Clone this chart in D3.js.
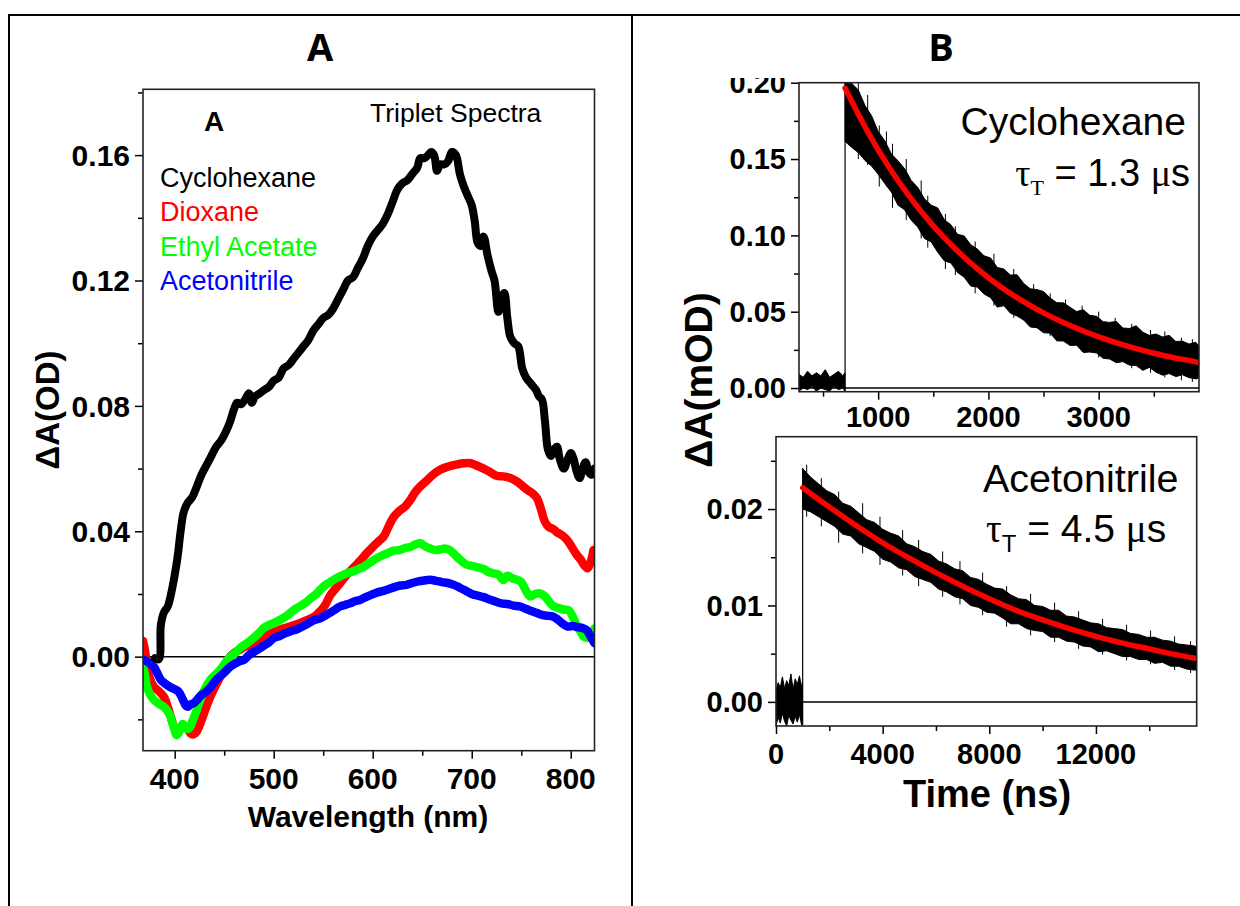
<!DOCTYPE html>
<html><head><meta charset="utf-8">
<script src="https://cdn.jsdelivr.net/npm/d3@7"></script>
<style>body{margin:0;background:#fff}svg{display:block}</style>
</head><body><svg id="c" width="1240" height="906"></svg>
<script>
// ---------- Panel A: triplet spectra ----------
const seriesNames = ["Cyclohexane", "Dioxane", "Ethyl Acetate", "Acetonitrile"];
const seriesColors = ["#000000", "#ff0000", "#00ff00", "#0000ff"];
const cyclohexaneSpec = [[380,-0.0005],[384,-0.0008],[386,0.010],[389,0.0140],[393,0.0160],[396,0.0195],[400,0.026],[403,0.032],[406,0.040],[409,0.046],[413,0.049],[418,0.051],[422,0.054],[427,0.058],[432,0.061],[437,0.064],[442,0.067],[447,0.069],[452,0.072],[456,0.075],[460,0.079],[463,0.081],[467,0.0805],[471,0.082],[475,0.084],[478,0.081],[481,0.083],[486,0.084],[490,0.085],[495,0.086],[500,0.088],[505,0.089],[510,0.092],[515,0.093],[520,0.095],[525,0.097],[530,0.099],[535,0.101],[540,0.104],[545,0.106],[550,0.108],[555,0.109],[560,0.111],[565,0.114],[570,0.117],[575,0.120],[580,0.121],[585,0.124],[590,0.127],[595,0.131],[600,0.134],[605,0.136],[610,0.138],[615,0.141],[620,0.145],[625,0.149],[630,0.151],[635,0.152],[640,0.154],[645,0.156],[648,0.159],[652,0.159],[656,0.160],[659,0.161],[662,0.160],[665,0.155],[668,0.157],[672,0.157],[676,0.158],[680,0.161],[684,0.160],[688,0.154],[692,0.150],[696,0.147],[700,0.144],[703,0.139],[706,0.132],[709,0.131],[712,0.134],[716,0.128],[720,0.123],[723,0.120],[727,0.110],[730,0.114],[733,0.116],[736,0.108],[739,0.102],[743,0.100],[747,0.099],[751,0.092],[755,0.089],[760,0.087],[765,0.085],[768,0.083],[771,0.082],[774,0.075],[777,0.066],[780,0.064],[783,0.066],[786,0.067],[789,0.063],[793,0.060],[797,0.063],[800,0.065],[803,0.063],[806,0.059],[809,0.057],[812,0.060],[815,0.062],[818,0.059],[821,0.058],[824,0.060]];
const dioxaneSpec = [[368,0.005],[370,0.002],[372,-0.003],[375,-0.007],[379,-0.0096],[384,-0.011],[389,-0.0128],[393,-0.016],[396,-0.0192],[400,-0.023],[403,-0.0245],[406,-0.023],[409,-0.0224],[413,-0.023],[416,-0.0245],[419,-0.0248],[422,-0.024],[425,-0.022],[428,-0.0195],[432,-0.016],[436,-0.0128],[441,-0.0095],[446,-0.0064],[451,-0.003],[456,0.000],[460,0.0012],[465,0.002],[470,0.003],[475,0.0035],[480,0.0045],[485,0.0052],[490,0.0062],[495,0.0070],[500,0.0078],[506,0.0086],[512,0.0092],[518,0.0098],[524,0.0104],[530,0.0112],[536,0.0120],[542,0.0130],[547,0.0145],[552,0.0165],[557,0.0195],[562,0.0215],[568,0.0238],[574,0.0262],[580,0.0282],[587,0.0305],[594,0.0330],[600,0.0350],[606,0.0368],[611,0.0383],[616,0.0415],[621,0.0445],[627,0.0465],[633,0.0480],[638,0.0500],[643,0.0525],[648,0.0543],[654,0.0560],[660,0.0578],[668,0.0596],[675,0.0605],[683,0.0612],[692,0.0617],[699,0.0617],[705,0.0610],[712,0.0600],[718,0.0590],[725,0.0577],[732,0.0575],[739,0.0570],[745,0.0560],[750,0.0548],[756,0.0532],[761,0.0522],[766,0.0505],[770,0.0470],[774,0.0430],[778,0.0413],[782,0.0408],[786,0.0397],[790,0.0390],[794,0.0380],[798,0.0365],[802,0.0345],[806,0.0325],[810,0.0310],[814,0.0290],[817,0.0282],[820,0.0300],[823,0.0340]];
const ethylAcetateSpec = [[368,-0.003],[370,-0.006],[372,-0.0096],[375,-0.012],[379,-0.0138],[384,-0.0150],[389,-0.0160],[393,-0.0175],[396,-0.0192],[399,-0.0225],[402,-0.0250],[405,-0.0235],[408,-0.0215],[411,-0.0228],[414,-0.0230],[418,-0.0205],[422,-0.0172],[426,-0.0135],[431,-0.0100],[436,-0.0074],[441,-0.0058],[446,-0.0042],[451,-0.0020],[456,0.0000],[461,0.0012],[467,0.0030],[473,0.0043],[479,0.0058],[485,0.0075],[490,0.0092],[496,0.0102],[502,0.0110],[508,0.0120],[514,0.0132],[520,0.0148],[526,0.0160],[532,0.0172],[538,0.0188],[543,0.0200],[547,0.0213],[552,0.0228],[557,0.0238],[562,0.0248],[568,0.0258],[574,0.0266],[580,0.0272],[586,0.0280],[591,0.0287],[597,0.0300],[603,0.0312],[609,0.0322],[615,0.0330],[621,0.0338],[627,0.0340],[632,0.0346],[638,0.0350],[643,0.0358],[648,0.0362],[653,0.0352],[658,0.0345],[663,0.0340],[668,0.0342],[673,0.0345],[678,0.0340],[683,0.0325],[688,0.0310],[694,0.0295],[700,0.0290],[706,0.0285],[712,0.0280],[717,0.0270],[722,0.0266],[727,0.0262],[732,0.0245],[736,0.0258],[741,0.0250],[746,0.0245],[750,0.0238],[754,0.0215],[759,0.0192],[764,0.0200],[769,0.0202],[774,0.0192],[779,0.0172],[783,0.0160],[788,0.0155],[793,0.0150],[798,0.0148],[802,0.0128],[806,0.0100],[810,0.0080],[813,0.0064],[816,0.0060],[819,0.0062],[822,0.0075],[824,0.0090]];
const acetonitrileSpec = [[368,-0.001],[372,-0.0015],[376,-0.0025],[379,-0.0032],[382,-0.0050],[386,-0.0074],[390,-0.0085],[395,-0.0096],[400,-0.0104],[404,-0.0112],[408,-0.0135],[411,-0.0155],[413,-0.0160],[416,-0.0152],[419,-0.0149],[422,-0.0140],[426,-0.0125],[430,-0.0116],[434,-0.0105],[438,-0.0090],[442,-0.0074],[447,-0.0060],[452,-0.0045],[456,-0.0032],[461,-0.0022],[466,-0.0014],[470,-0.0010],[475,0.0005],[480,0.0015],[485,0.0025],[490,0.0035],[495,0.0045],[500,0.0059],[506,0.0066],[512,0.0075],[518,0.0082],[524,0.0088],[530,0.0098],[536,0.0108],[541,0.0117],[547,0.0122],[553,0.0133],[558,0.0142],[563,0.0152],[567,0.0160],[572,0.0165],[577,0.0170],[582,0.0177],[587,0.0181],[593,0.0190],[599,0.0198],[605,0.0205],[611,0.0210],[616,0.0215],[622,0.0222],[628,0.0227],[634,0.0229],[640,0.0235],[646,0.0240],[652,0.0243],[658,0.0245],[664,0.0242],[670,0.0238],[676,0.0235],[682,0.0229],[688,0.0220],[694,0.0210],[700,0.0200],[706,0.0195],[712,0.0190],[718,0.0182],[724,0.0176],[730,0.0170],[736,0.0168],[742,0.0163],[749,0.0160],[755,0.0152],[761,0.0145],[766,0.0139],[771,0.0133],[777,0.0130],[782,0.0128],[787,0.0118],[792,0.0105],[797,0.0096],[802,0.0098],[807,0.0094],[812,0.0091],[816,0.0085],[820,0.0065],[824,0.0043]];
const aXTicks = [400, 500, 600, 700, 800];
const aXMinor = [450, 550, 650, 750];
const aYTicks = [0.00, 0.04, 0.08, 0.12, 0.16];
const aYMinor = [-0.02, 0.02, 0.06, 0.10, 0.14, 0.18];

// ---------- Panel B top: cyclohexane decay ----------
const cyPreT = [282,320,360,400,440,480,520,560,600,640,680,698];
const cyPreUpper = [0.009,0.007,0.011,0.008,0.010,0.008,0.012,0.007,0.009,0.011,0.008,0.010];
const cyPreLower = [-0.002,0.000,-0.001,0.001,-0.002,0.000,-0.001,-0.002,0.001,-0.001,0.000,-0.002];
const cyPostT = [700,760,820,880,940,1000,1060,1120,1180,1240,1300,1360,1420,1480,1540,1600,1660,1720,1780,1840,1900,1960,2020,2080,2140,2200,2260,2320,2380,2440,2500,2560,2620,2680,2740,2800,2860,2920,2980,3040,3100,3160,3220,3280,3340,3400,3460,3520,3580,3640,3700,3760,3820,3880,3910];
const cyPostUpper = [0.2000,0.1996,0.1952,0.1851,0.1784,0.1680,0.1620,0.1533,0.1488,0.1437,0.1359,0.1313,0.1239,0.1198,0.1180,0.1103,0.1069,0.1007,0.0996,0.0938,0.0911,0.0866,0.0852,0.0790,0.0779,0.0740,0.0742,0.0685,0.0650,0.0645,0.0632,0.0590,0.0559,0.0558,0.0529,0.0501,0.0513,0.0476,0.0470,0.0435,0.0430,0.0436,0.0393,0.0390,0.0408,0.0366,0.0345,0.0354,0.0334,0.0345,0.0305,0.0307,0.0288,0.0300,0.0276];
const cyPostLower = [0.1615,0.1576,0.1542,0.1491,0.1454,0.1400,0.1340,0.1283,0.1198,0.1167,0.1099,0.1053,0.0979,0.0958,0.0890,0.0833,0.0819,0.0757,0.0726,0.0668,0.0661,0.0616,0.0592,0.0530,0.0539,0.0490,0.0472,0.0445,0.0400,0.0395,0.0362,0.0360,0.0309,0.0308,0.0279,0.0281,0.0233,0.0236,0.0230,0.0195,0.0190,0.0166,0.0173,0.0150,0.0148,0.0116,0.0135,0.0104,0.0084,0.0095,0.0075,0.0087,0.0068,0.0060,0.0066];
const cySpikes = [[820,0.150,0.200],[905,0.146,0.192],[1010,0.132,0.172],[1075,0.132,0.168],[1130,0.118,0.160],[1255,0.110,0.150],[1390,0.098,0.136],[1450,0.092,0.126],[1610,0.078,0.114],[1700,0.074,0.106],[1880,0.062,0.096],[2050,0.054,0.088],[2230,0.046,0.078],[2410,0.040,0.068],[2560,0.034,0.062],[2700,0.030,0.058],[2850,0.024,0.054],[3000,0.020,0.050],[3150,0.017,0.046],[3300,0.013,0.042],[3470,0.010,0.038],[3600,0.007,0.037],[3750,0.005,0.033],[3850,0.004,0.032]];
const cyFitT = [700,900,1100,1300,1500,1700,1900,2100,2300,2500,2700,2900,3100,3300,3500,3700,3900,3910];
const cyFit = [0.1965,0.1685,0.1445,0.1239,0.1062,0.0911,0.0781,0.0669,0.0574,0.0492,0.0422,0.0362,0.0310,0.0266,0.0228,0.0196,0.0168,0.0166];
const cyXTicks = [1000, 2000, 3000];
const cyXMinor = [500, 1500, 2500, 3500];
const cyYTicks = [0.00, 0.05, 0.10, 0.15, 0.20];
const cyYMinor = [0.025, 0.075, 0.125, 0.175];

// ---------- Panel B bottom: acetonitrile decay ----------
const acPreT = [0,80,160,240,320,400,480,560,640,720,800,880,960,995];
const acPreUpper = [0.0012,0.0020,0.0015,0.0026,0.0014,0.0022,0.0017,0.0029,0.0013,0.0024,0.0018,0.0027,0.0015,0.0021];
const acPreLower = [-0.0025,-0.0016,-0.0022,-0.0012,-0.0020,-0.0025,-0.0014,-0.0019,-0.0023,-0.0015,-0.0021,-0.0013,-0.0024,-0.0018];
const acPostT = [1000,1300,1600,1900,2200,2500,2800,3100,3400,3700,4000,4300,4600,4900,5200,5500,5800,6100,6400,6700,7000,7300,7600,7900,8200,8500,8800,9100,9400,9700,10000,10300,10600,10900,11200,11500,11800,12100,12400,12700,13000,13300,13600,13900,14200,14500,14800,15100,15400,15700,15780];
const acPostUpper = [0.0242,0.0233,0.0226,0.0219,0.0215,0.0206,0.0203,0.0196,0.0189,0.0186,0.0179,0.0175,0.0172,0.0164,0.0161,0.0156,0.0153,0.0146,0.0143,0.0138,0.0136,0.0129,0.0127,0.0122,0.0118,0.0117,0.0111,0.0107,0.0106,0.0100,0.0099,0.0095,0.0095,0.0089,0.0088,0.0085,0.0082,0.0081,0.0077,0.0076,0.0075,0.0071,0.0070,0.0067,0.0067,0.0064,0.0063,0.0060,0.0059,0.0058,0.0057];
const acPostLower = [0.0200,0.0197,0.0192,0.0187,0.0182,0.0174,0.0172,0.0164,0.0160,0.0156,0.0148,0.0145,0.0139,0.0137,0.0130,0.0127,0.0124,0.0117,0.0114,0.0109,0.0107,0.0100,0.0098,0.0093,0.0092,0.0087,0.0081,0.0081,0.0076,0.0074,0.0073,0.0067,0.0067,0.0063,0.0062,0.0058,0.0057,0.0052,0.0053,0.0050,0.0047,0.0047,0.0044,0.0044,0.0040,0.0041,0.0037,0.0037,0.0034,0.0033,0.0033];
const acSpikes = [[1150,0.0192,0.0246],[1700,0.0182,0.0232],[2350,0.0165,0.0218],[3250,0.0154,0.0206],[3900,0.0142,0.0192],[4750,0.0131,0.0178],[5350,0.0120,0.0168],[6250,0.0109,0.0156],[6900,0.0101,0.0146],[7750,0.0090,0.0134],[8650,0.0078,0.0120],[9550,0.0069,0.0112],[10450,0.0062,0.0103],[11350,0.0055,0.0094],[12250,0.0049,0.0086],[13150,0.0043,0.0080],[14050,0.0039,0.0074],[14950,0.0033,0.0068],[15550,0.0030,0.0063]];
const acFitT = [1000,2000,3000,4000,5000,6000,7000,8000,9000,10000,11000,12000,13000,14000,15000,15780];
const acFit = [0.0222,0.0202,0.0183,0.0165,0.0149,0.0134,0.0120,0.0107,0.0095,0.0085,0.0076,0.0068,0.0061,0.0055,0.0049,0.0045];
const acXTicks = [0, 4000, 8000, 12000];
const acXMinor = [2000, 6000, 10000, 14000];
const acYTicks = [0.00, 0.01, 0.02];
const acYMinor = [0.005, 0.015, 0.025];

// ---------- drawing ----------
const SANS = "'Liberation Sans', Arial, sans-serif";
const SERIF = "'Liberation Serif', 'Times New Roman', serif";
const svg = d3.select("#c");
const defs = svg.append("defs");

// outer table frame
const frame = svg.append("g").attr("stroke", "#000").attr("stroke-width", 2);
frame.append("line").attr("x1", 8).attr("x2", 1240).attr("y1", 15).attr("y2", 15);
frame.append("line").attr("x1", 9).attr("x2", 9).attr("y1", 14).attr("y2", 906);
frame.append("line").attr("x1", 632).attr("x2", 632).attr("y1", 14).attr("y2", 906);

function panelTitle(txt, cx) {
  svg.append("text").attr("x", cx).attr("y", 61)
    .attr("text-anchor", "middle").attr("font-family", "'Open Sans', " + SANS).attr("font-weight", "bold")
    .attr("font-size", 38).text(txt);
}
panelTitle("A", 320);
panelTitle("B", 941);

function makePlot(o) {
  const g = svg.append("g");
  const x = d3.scaleLinear().domain(o.xd).range([o.l, o.r]);
  const y = d3.scaleLinear().domain(o.yd).range([o.b, o.t]);
  const id = "clip" + o.name;
  defs.append("clipPath").attr("id", id).append("rect")
    .attr("x", o.l).attr("y", o.t).attr("width", o.r - o.l).attr("height", o.b - o.t);
  const ax = g.append("g").attr("transform", `translate(0,${o.b})`)
    .call(d3.axisBottom(x).tickValues(o.xt).tickSize(8).tickFormat(""));
  const axm = g.append("g").attr("transform", `translate(0,${o.b})`)
    .call(d3.axisBottom(x).tickValues(o.xm).tickSize(5).tickFormat(""));
  const ay = g.append("g").attr("transform", `translate(${o.l},0)`)
    .call(d3.axisLeft(y).tickValues(o.yt).tickSize(8).tickFormat(""));
  const aym = g.append("g").attr("transform", `translate(${o.l},0)`)
    .call(d3.axisLeft(y).tickValues(o.ym).tickSize(5).tickFormat(""));
  [ax, axm, ay, aym].forEach(a => {
    a.select(".domain").remove();
    a.selectAll("line").attr("stroke", "#000").attr("stroke-width", 1.5);
  });
  const lg = g.append("g").attr("font-family", SANS).attr("font-weight", "bold")
    .attr("font-size", o.fs).attr("fill", "#000");
  if (o.labelClip) {
    defs.append("clipPath").attr("id", id + "L").append("rect")
      .attr("x", 0).attr("y", o.labelClip).attr("width", 1240).attr("height", 906);
    lg.attr("clip-path", `url(#${id}L)`);
  }
  o.xt.forEach(v => lg.append("text").attr("x", x(v)).attr("y", o.xlab)
    .attr("text-anchor", "middle").text(o.xf(v)));
  o.yt.forEach(v => lg.append("text").attr("x", o.l - 13).attr("y", y(v) + o.fs * 0.36)
    .attr("text-anchor", "end").text(o.yf(v)));
  const plot = g.append("g").attr("clip-path", `url(#${id})`);
  plot.append("line").attr("x1", o.l).attr("x2", o.r).attr("y1", y(0)).attr("y2", y(0))
    .attr("stroke", "#000").attr("stroke-width", 1.5);
  g.append("rect").attr("class", "box").attr("x", o.l).attr("y", o.t).attr("width", o.r - o.l)
    .attr("height", o.b - o.t).attr("fill", "none").attr("stroke", "#222").attr("stroke-width", 1.6);
  return {x, y, plot, g};
}

// ----- Panel A -----
const A = makePlot({name: "A", l: 143, r: 594.5, t: 89.3, b: 750.7, xd: [368, 824], yd: [-0.030, 0.181],
  xt: aXTicks, xm: aXMinor, yt: aYTicks, ym: aYMinor, fs: 30, xlab: 789,
  xf: d3.format("d"), yf: d3.format(".2f")});
const lineA = d3.line().x(d => A.x(d[0])).y(d => A.y(d[1])).curve(d3.curveCatmullRom.alpha(0.5));
const specs = [dioxaneSpec, ethylAcetateSpec, acetonitrileSpec, cyclohexaneSpec];
const specColors = [seriesColors[1], seriesColors[2], seriesColors[3], seriesColors[0]];
specs.forEach((s, i) => {
  A.plot.append("path").attr("d", lineA(s)).attr("fill", "none").attr("stroke", specColors[i])
    .attr("stroke-width", i === 3 ? 8 : 8.5).attr("stroke-linejoin", "round").attr("stroke-linecap", "round");
});
A.g.select(".box").raise();
svg.append("text").attr("x", 214).attr("y", 131).attr("text-anchor", "middle")
  .attr("font-family", SANS).attr("font-weight", "bold").attr("font-size", 28).text("A");
svg.append("text").attr("x", 370).attr("y", 122).attr("font-family", SANS)
  .attr("font-size", 26.5).text("Triplet Spectra");
seriesNames.forEach((n, i) => {
  svg.append("text").attr("x", 160).attr("y", 187 + i * 34.3).attr("font-family", SANS)
    .attr("font-size", 27).attr("fill", seriesColors[i]).text(n);
});
svg.append("text").attr("font-family", SANS).attr("font-weight", "bold").attr("font-size", 30)
  .attr("x", 368).attr("y", 827).attr("text-anchor", "middle").text("Wavelength (nm)");
svg.append("text").attr("font-family", SANS).attr("font-weight", "bold").attr("font-size", 33)
  .attr("transform", "translate(59,410) rotate(-90)").attr("text-anchor", "middle").text("ΔA(OD)");

// ----- Panel B -----
function drawDecay(P, preT, preU, preL, postT, postU, postL, spikes, fitT, fit, yMin) {
  const area = d3.area().x(d => P.x(d[0])).y0(d => P.y(d[2])).y1(d => P.y(d[1]));
  const pre = preT.map((t, i) => [t, preU[i], preL[i]]);
  const post = postT.map((t, i) => [t, postU[i], postL[i]]);
  [pre, post].forEach(dat => {
    P.plot.append("path").attr("d", area(dat)).attr("fill", "#000")
      .attr("stroke", "#000").attr("stroke-width", 1).attr("stroke-linejoin", "bevel");
  });
  P.plot.selectAll(null).data(spikes).join("line")
    .attr("x1", d => P.x(d[0])).attr("x2", d => P.x(d[0]))
    .attr("y1", d => P.y(d[1])).attr("y2", d => P.y(d[2]))
    .attr("stroke", "#000").attr("stroke-width", 1);
  P.plot.append("line").attr("x1", P.x(postT[0])).attr("x2", P.x(postT[0]))
    .attr("y1", P.y(yMin)).attr("y2", P.y(postU[0])).attr("stroke", "#000").attr("stroke-width", 1.2);
  const fl = d3.line().x((d, i) => P.x(fitT[i])).y(d => P.y(d)).curve(d3.curveMonotoneX);
  P.plot.append("path").attr("d", fl(fit)).attr("fill", "none").attr("stroke", "#ff0000")
    .attr("stroke-width", 5.5).attr("stroke-linecap", "round");
  P.g.select(".box").raise();
}

const B1 = makePlot({name: "B1", l: 799, r: 1199, t: 82.7, b: 391.7, xd: [282, 3910], yd: [-0.0024, 0.20],
  xt: cyXTicks, xm: cyXMinor, yt: cyYTicks, ym: cyYMinor, fs: 29, xlab: 427, labelClip: 78,
  xf: d3.format("d"), yf: d3.format(".2f")});
drawDecay(B1, cyPreT, cyPreUpper, cyPreLower, cyPostT, cyPostUpper, cyPostLower, cySpikes, cyFitT, cyFit, -0.0024);

const B2 = makePlot({name: "B2", l: 776, r: 1196.7, t: 436.7, b: 726, xd: [0, 15780], yd: [-0.0025, 0.0275],
  xt: acXTicks, xm: acXMinor, yt: acYTicks, ym: acYMinor, fs: 29, xlab: 764,
  xf: d3.format("d"), yf: d3.format(".2f")});
drawDecay(B2, acPreT, acPreUpper, acPreLower, acPostT, acPostUpper, acPostLower, acSpikes, acFitT, acFit, -0.0025);

// annotations B
svg.append("text").attr("font-family", SANS).attr("font-size", 39).attr("text-anchor", "end")
  .attr("x", 1186).attr("y", 135).text("Cyclohexane");
const t2 = svg.append("text").attr("font-family", SANS).attr("font-size", 38).attr("text-anchor", "end")
  .attr("x", 1190).attr("y", 186);
t2.append("tspan").attr("font-family", SERIF).text("τ");
t2.append("tspan").attr("font-family", SERIF).attr("font-size", 22).attr("dy", 9).text("T");
t2.append("tspan").attr("dy", -9).text(" = 1.3 ");
t2.append("tspan").attr("font-family", SERIF).text("μ");
t2.append("tspan").text("s");

svg.append("text").attr("font-family", SANS).attr("font-size", 39.5)
  .attr("x", 983).attr("y", 492).text("Acetonitrile");
const t3 = svg.append("text").attr("font-family", SANS).attr("font-size", 39)
  .attr("x", 986).attr("y", 542);
t3.append("tspan").attr("font-family", SERIF).text("τ");
t3.append("tspan").attr("font-size", 24).attr("dy", 10).text("T");
t3.append("tspan").attr("dy", -10).text(" = 4.5 ");
t3.append("tspan").attr("font-family", SERIF).text("μ");
t3.append("tspan").text("s");

svg.append("text").attr("font-family", SANS).attr("font-weight", "bold").attr("font-size", 38)
  .attr("x", 987).attr("y", 807).attr("text-anchor", "middle").text("Time (ns)");
svg.append("text").attr("font-family", SANS).attr("font-weight", "bold").attr("font-size", 39)
  .attr("transform", "translate(712,380) rotate(-90)").attr("text-anchor", "middle").text("ΔA(mOD)");
</script></body></html>
